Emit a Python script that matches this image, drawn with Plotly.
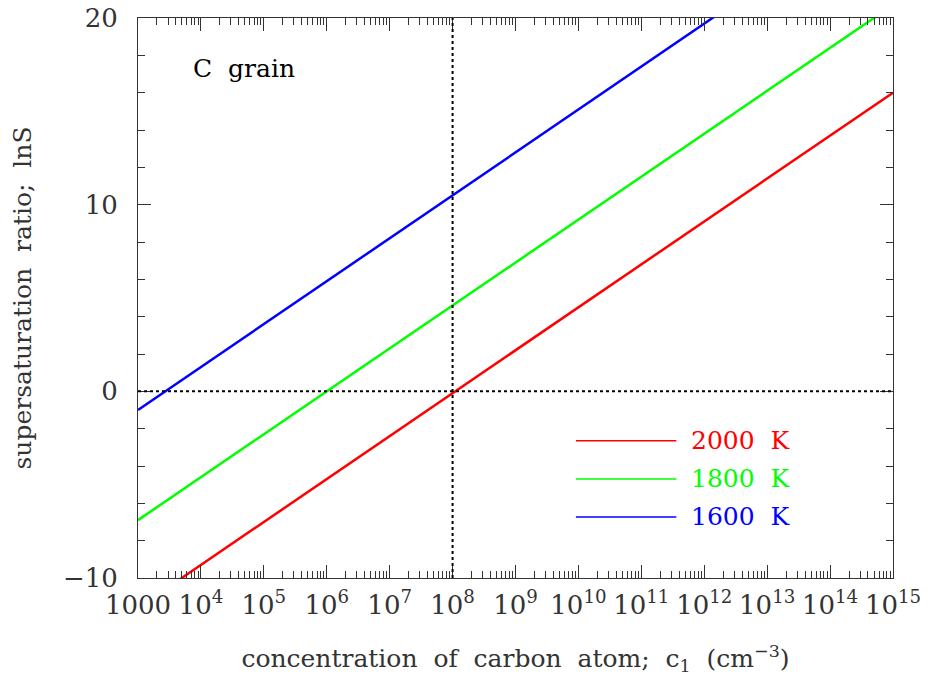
import plotly.graph_objects as go

# Carbon-atom concentration c1 (cm^-3) at the ends of each curve
c1 = [1e3, 1e15]

# Supersaturation ratio lnS for each gas temperature
temps = ["2000 K", "1800 K", "1600 K"]
lnS_2000 = [-11.6, 16.0]
lnS_1800 = [-6.9, 20.7]
lnS_1600 = [-1.0, 26.6]
colors = ["#ff0000", "#00ff00", "#0000ff"]

# Axis tick labels
x_tickvals = [10.0 ** k for k in range(3, 16)]
x_ticktext = ["1000"] + [f"10<sup>{k}</sup>" for k in range(4, 16)]
y_tickvals = [-10, 0, 10, 20]

FONT = "DejaVu Serif"
INK = "#333333"

fig = go.Figure()

for name, ys, col in zip(temps, [lnS_2000, lnS_1800, lnS_1600], colors):
    fig.add_trace(go.Scatter(x=c1, y=ys, mode="lines", name=name,
                             line=dict(color=col, width=2.5), showlegend=False))

# Dotted reference lines: lnS = 0 and c1 = 1e8
fig.add_shape(type="line", xref="x domain", yref="y", x0=0, x1=1, y0=0, y1=0,
              line=dict(color="black", width=2, dash="dot"))
fig.add_shape(type="line", xref="x", yref="y domain", x0=1e8, x1=1e8, y0=0, y1=1,
              line=dict(color="black", width=2, dash="dot"))

# Key drawn inside the plot area
key_y = [0.245, 0.177, 0.109]
for name, col, ky in zip(temps, colors, key_y):
    fig.add_shape(type="line", xref="x domain", yref="y domain",
                  x0=0.58, x1=0.713, y0=ky, y1=ky, line=dict(color=col, width=1.5))
    fig.add_annotation(xref="x domain", yref="y domain", x=0.73, y=ky,
                       text=name.replace(" ", "\u00a0\u00a0"), showarrow=False,
                       xanchor="left", yanchor="middle",
                       font=dict(family=FONT, size=25, color=col))

fig.add_annotation(xref="x domain", yref="y domain", x=0.07, y=0.91,
                   text="C\u00a0\u00a0grain", showarrow=False, xanchor="left", yanchor="middle",
                   font=dict(family=FONT, size=25, color="black"))

minor_x = [m * 10.0 ** k for k in range(3, 15) for m in range(2, 10)]

fig.update_layout(
    width=929, height=687,
    margin=dict(l=138, r=36, t=18, b=109),
    plot_bgcolor="white", paper_bgcolor="white",
    font=dict(family=FONT, size=25, color=INK),
    xaxis=dict(
        type="log", range=[3, 15], automargin=False,
        tickvals=x_tickvals, ticktext=x_ticktext,
        ticks="inside", ticklen=13, tickwidth=1, tickcolor=INK,
        showline=True, linecolor=INK, linewidth=1, mirror="allticks",
        showgrid=False, zeroline=False,
        minor=dict(tickvals=minor_x, ticks="inside", ticklen=7, tickcolor=INK, showgrid=False),
        title=dict(text="concentration\u00a0 of\u00a0 carbon\u00a0 atom;\u00a0 c<sub>1</sub>\u00a0 (cm<sup>−3</sup>)",
                   font=dict(size=25), standoff=30),
        tickfont=dict(size=26),
        ticklabelstandoff=4,
    ),
    yaxis=dict(
        range=[-10, 20], automargin=False,
        tickvals=y_tickvals,
        ticks="inside", ticklen=13, tickwidth=1, tickcolor=INK,
        showline=True, linecolor=INK, linewidth=1, mirror="allticks",
        showgrid=False, zeroline=False,
        minor=dict(dtick=2, ticks="inside", ticklen=7, tickcolor=INK, showgrid=False),
        title=dict(text="supersaturation\u00a0 ratio;\u00a0 lnS", font=dict(size=25), standoff=24),
        tickfont=dict(size=26),
        ticklabelstandoff=14,
    ),
)

fig.write_html("out.html")
